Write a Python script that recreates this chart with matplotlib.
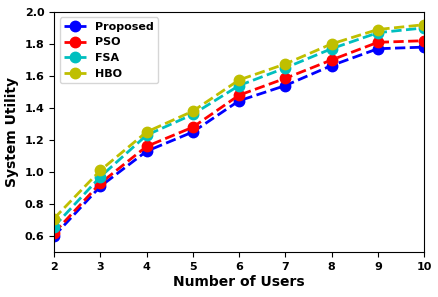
import matplotlib
matplotlib.use("Agg")
import matplotlib.pyplot as plt

users = [2, 3, 4, 5, 6, 7, 8, 9, 10]
proposed = [0.60, 0.91, 1.13, 1.25, 1.445, 1.54, 1.665, 1.77, 1.78]
pso = [0.62, 0.93, 1.16, 1.28, 1.48, 1.585, 1.70, 1.81, 1.82]
fsa = [0.66, 0.97, 1.23, 1.36, 1.54, 1.65, 1.77, 1.87, 1.90]
hbo = [0.71, 1.01, 1.25, 1.38, 1.575, 1.675, 1.80, 1.89, 1.92]

series = [("Proposed", proposed, "b"), ("PSO", pso, "r"),
          ("FSA", fsa, "c"), ("HBO", hbo, "y")]

plt.rcParams['font.weight'] = 'bold'
fig = plt.figure(figsize=(4.39, 2.97), dpi=100)
ax = fig.add_axes([0.123, 0.151, 0.843, 0.809])

for name, vals, col in series:
    ax.plot(users, vals, '--o', color=col, linewidth=2, markersize=7.5, label=name)

ax.set_xlim(2, 10)
ax.set_ylim(0.5, 2.0)
ax.set_xticks(users)
ax.set_yticks([0.6, 0.8, 1.0, 1.2, 1.4, 1.6, 1.8, 2.0])
ax.tick_params(labelsize=8)
for lbl in ax.get_xticklabels() + ax.get_yticklabels():
    lbl.set_fontweight('bold')
ax.set_xlabel("Number of Users", fontsize=10, fontweight='bold', labelpad=2)
ax.set_ylabel("System Utility", fontsize=10, fontweight='bold')
ax.legend(loc='upper left', prop={'weight': 'bold', 'size': 8})

fig.savefig("out.png", dpi=100)
